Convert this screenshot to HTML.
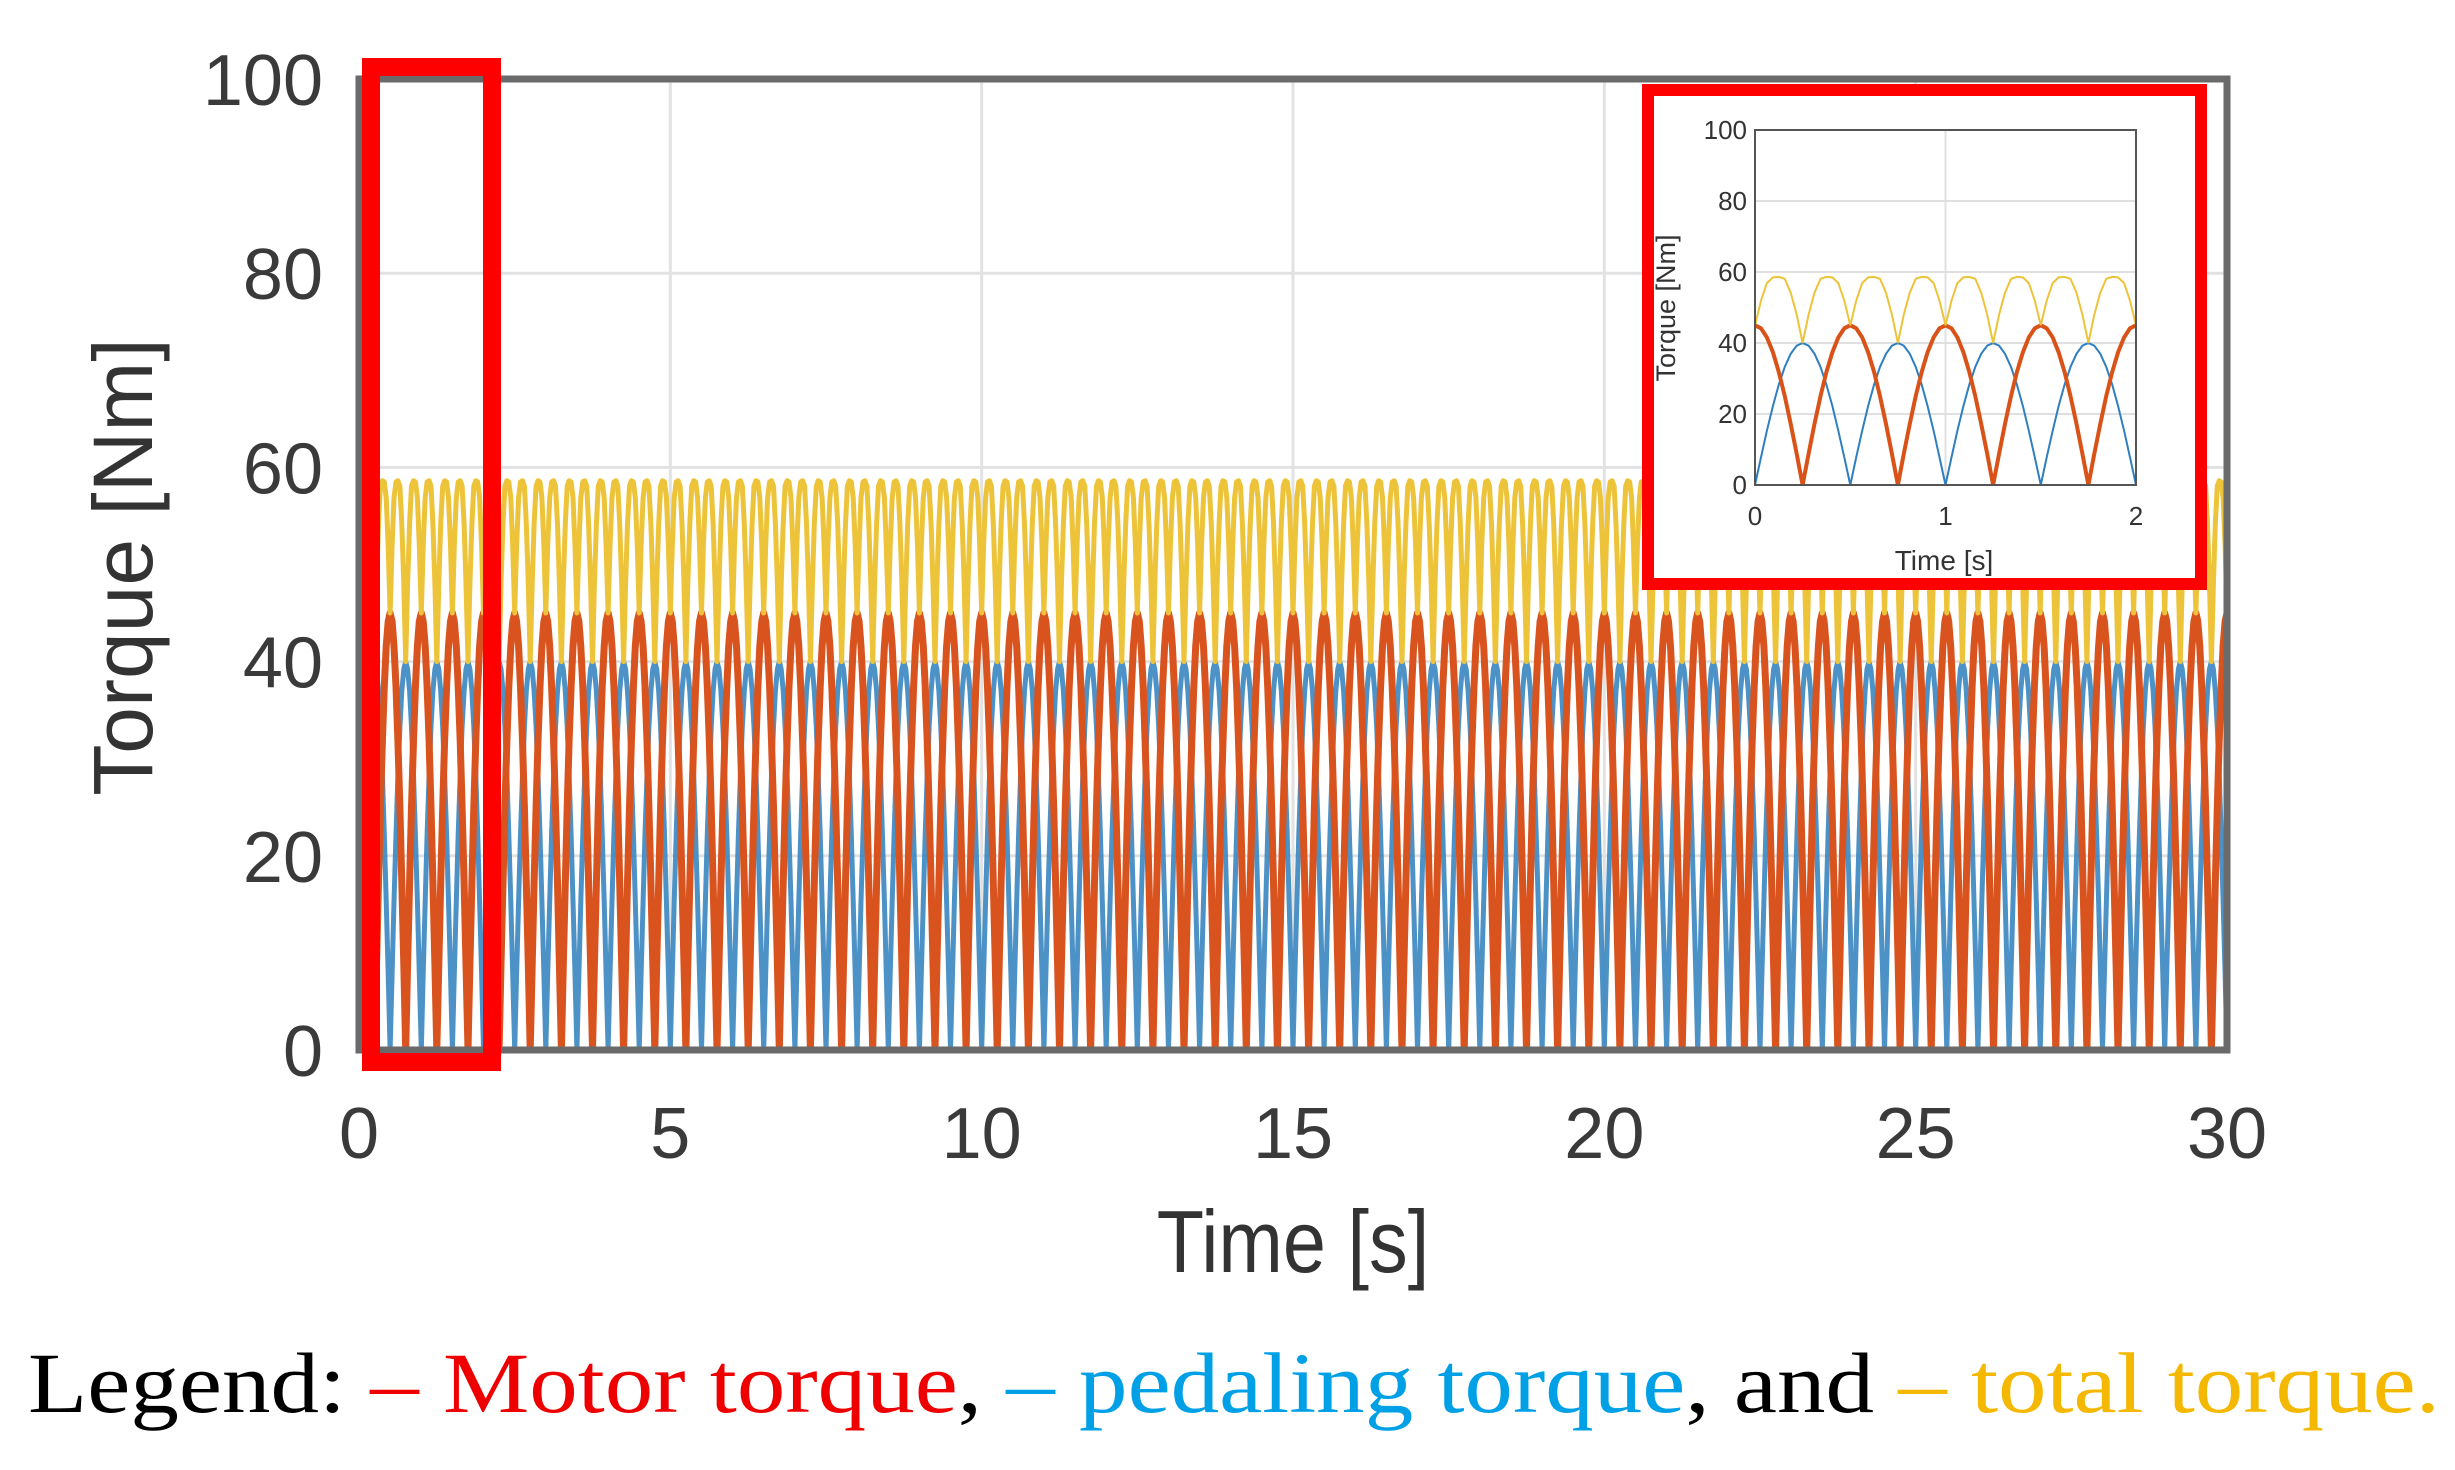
<!DOCTYPE html>
<html><head><meta charset="utf-8"><style>
html,body{margin:0;padding:0;background:#fff;width:2455px;height:1470px;overflow:hidden}
svg{display:block}
</style></head><body>
<svg id="s" width="2455" height="1470" viewBox="0 0 2455 1470" xmlns="http://www.w3.org/2000/svg" font-family="Liberation Sans, sans-serif">
<rect width="2455" height="1470" fill="#fff"/>
<g id="grid" stroke="#e2e2e2" stroke-width="3"></g>
<g id="data" fill="none" stroke-linejoin="round"></g>
<rect x="359" y="79" width="1868" height="971" fill="none" stroke="#6a6a6a" stroke-width="7"/>
<g id="ticks" fill="#3a3a3a" font-size="72"></g>
<text x="1293" y="1272" font-size="88" fill="#333" text-anchor="middle" transform="translate(1293 0) scale(0.88 1) translate(-1293 0)">Time [s]</text>
<text transform="translate(152 567) rotate(-90)" font-size="84" fill="#333" text-anchor="middle">Torque [Nm]</text>
<rect x="371" y="67" width="121" height="995" fill="none" stroke="#ff0000" stroke-width="18"/>
<rect x="1648" y="90" width="553" height="494" fill="#fff" stroke="#ff0000" stroke-width="12"/>
<g id="inset"></g>
<text x="28" y="1412" font-family="Liberation Serif, serif" font-size="86" fill="#000" textLength="2412" lengthAdjust="spacingAndGlyphs">Legend: <tspan fill="#ee0000">– Motor torque</tspan>, <tspan fill="#00a0e6">– pedaling torque</tspan>, and <tspan fill="#f5b800">– total torque.</tspan></text>
</svg>
<script>
var NS="http://www.w3.org/2000/svg";
function el(p,n,a,t){var e=document.createElementNS(NS,n);for(var k in a)e.setAttribute(k,a[k]);if(t!==undefined)e.textContent=t;p.appendChild(e);return e;}
function b(t){return 40*Math.abs(Math.sin(2*Math.PI*t));}
function r(t){return 45*Math.abs(Math.cos(2*Math.PI*t));}
var L=359,R=2227,T=79,B=1050;
function X(t){return L+(R-L)*t/30;} function Y(v){return B-(B-T)*v/100;}
var g=document.getElementById('grid'),tk=document.getElementById('ticks');
for(var i=0;i<=6;i++){var x=X(i*5);el(g,'line',{x1:x,y1:T,x2:x,y2:B});
 el(tk,'text',{x:x,y:1158,'text-anchor':'middle'},String(i*5));}
for(var v=0;v<=100;v+=20){var y=Y(v);el(g,'line',{x1:L,y1:y,x2:R,y2:y});
 el(tk,'text',{x:323,y:y+26,'text-anchor':'end'},String(v));}
var d=document.getElementById('data');
function path(f,X,Y,t0,t1,n){var s='';for(var i=0;i<=n;i++){var t=t0+(t1-t0)*i/n;s+=(i?'L':'M')+X(t).toFixed(1)+' '+Y(f(t)).toFixed(1);}return s;}
function tot(t){var v=b(t)+r(t);return v>58?58+(v-58)*0.3:v;}
var N=60*16;
el(d,'path',{d:path(b,X,Y,0,30,N),stroke:'#3a86c0','stroke-width':5,opacity:0.9});
el(d,'path',{d:path(r,X,Y,0,30,N),stroke:'#d9531e','stroke-width':7});
el(d,'path',{d:path(tot,X,Y,0,30,N),stroke:'#edc33a','stroke-width':5});
var ig=document.getElementById('inset');
var iL=1755,iR=2136,iT=130,iB=485;
function iX(t){return iL+(iR-iL)*t/2;} function iY(v){return iB-(iB-iT)*v/100;}
el(ig,'line',{x1:iX(1),y1:iT,x2:iX(1),y2:iB,stroke:'#e0e0e0','stroke-width':2});
for(var v=0;v<=100;v+=20){var y=iY(v);el(ig,'line',{x1:iL,y1:y,x2:iR,y2:y,stroke:'#e0e0e0','stroke-width':2});
 el(ig,'text',{x:1747,y:y+9,'text-anchor':'end','font-size':26,fill:'#333'},String(v));}
for(var i=0;i<=2;i++)el(ig,'text',{x:iX(i),y:525,'text-anchor':'middle','font-size':26,fill:'#333'},String(i));
el(ig,'path',{d:path(b,iX,iY,0,2,64),stroke:'#2f7fc0','stroke-width':2,fill:'none'});
el(ig,'path',{d:path(r,iX,iY,0,2,64),stroke:'#d95319','stroke-width':4,fill:'none'});
el(ig,'path',{d:path(tot,iX,iY,0,2,64),stroke:'#edc33a','stroke-width':2,fill:'none'});
el(ig,'rect',{x:iL,y:iT,width:iR-iL,height:iB-iT,fill:'none',stroke:'#555','stroke-width':2});
el(ig,'text',{x:1944,y:570,'text-anchor':'middle','font-size':28,fill:'#333'},'Time [s]');
el(ig,'text',{transform:'translate(1675 308) rotate(-90)','text-anchor':'middle','font-size':27,fill:'#333'},'Torque [Nm]');
</script>
</body></html>
